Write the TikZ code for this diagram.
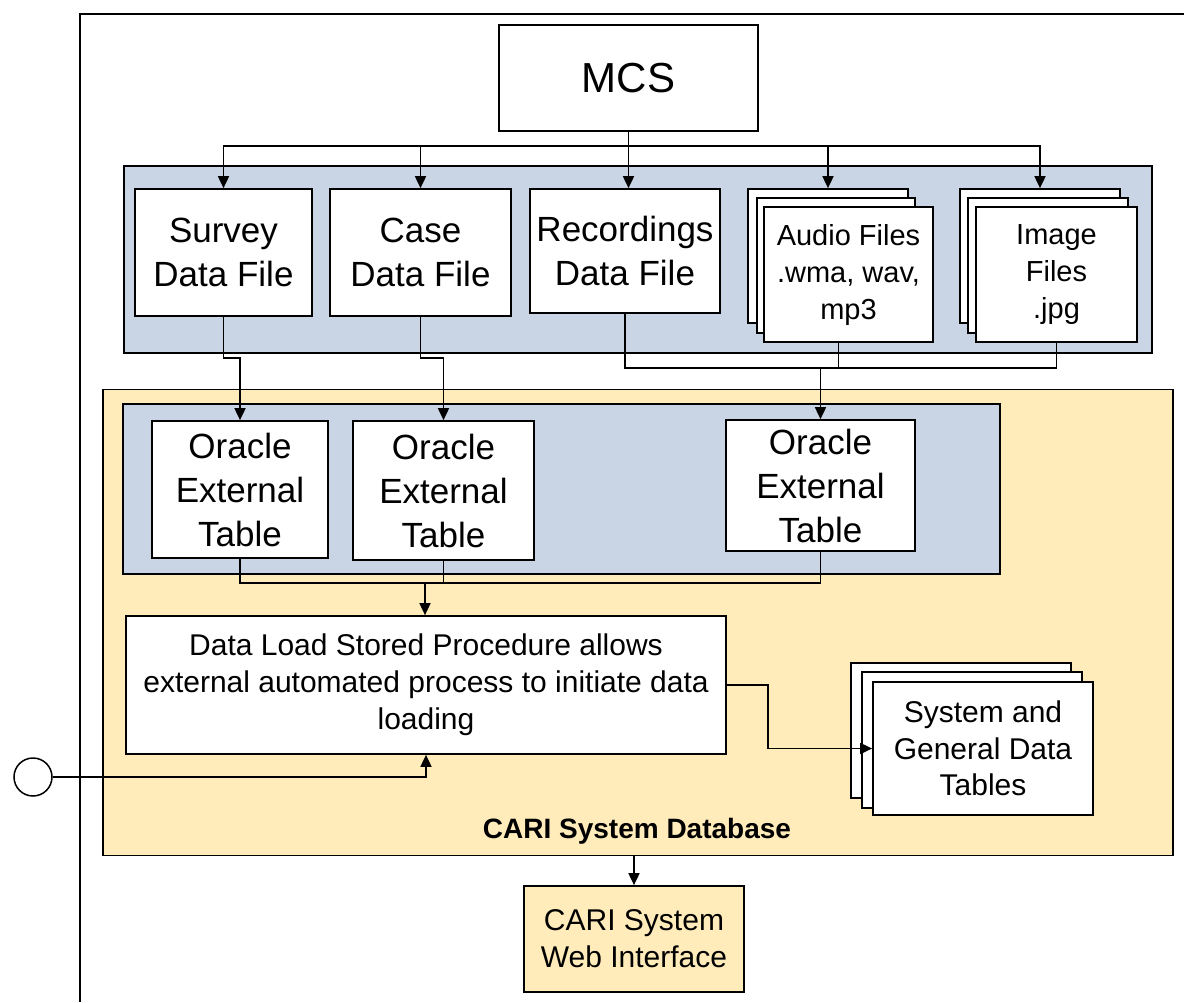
\documentclass[tikz,border=0pt]{standalone}
\usepackage{fontspec}
\setmainfont{Liberation Sans}
\usepackage{xcolor}
\usepackage{tikz}
\usetikzlibrary{arrows.meta, positioning, calc}
\definecolor{panelblue}{RGB}{201,213,228}
\definecolor{paneltan}{RGB}{255,236,186}
\tikzstyle{filebox} = [rectangle, draw=black, fill=white, line width=1.7pt, inner sep=0pt, align=center, font=\fontsize{35}{44}\selectfont]
\tikzstyle{sheet} = [filebox, font=\fontsize{29}{37}\selectfont]
\tikzstyle{bluepanel} = [rectangle, draw=black, fill=panelblue, line width=1.7pt, inner sep=0pt]
\tikzstyle{tanpanel} = [rectangle, draw=black, fill=paneltan, line width=1.7pt, inner sep=0pt]
\tikzstyle{arrow} = [line width=1.7pt, -{Triangle[length=12pt, width=11pt]}]
\tikzstyle{wire} = [line width=1.7pt]

\begin{document}
\begin{tikzpicture}[x=1pt, y=-1pt]
    \useasboundingbox (0,0) rectangle (1184,1002);
    \draw [wire] (80,1002) -- (80,14) -- (1184,14);

    % panels
    \node (files) [bluepanel, minimum width=1028pt, minimum height=187pt] at (638,259.5) {};
    \node (cari) [tanpanel, minimum width=1070pt, minimum height=466pt] at (638,622.5) {};
    \node (tables) [bluepanel, minimum width=877pt, minimum height=170pt] at (561.5,489) {};

    \node (mcs) [filebox, minimum width=259pt, minimum height=106pt, font=\fontsize{42}{50}\selectfont] at (628.5,78) {MCS};
    \node (survey) [filebox, minimum width=177pt, minimum height=127pt] at (223.5,252.5) {Survey\\Data File};
    \node (case) [filebox, minimum width=181pt, minimum height=127pt] at (420.5,252.5) {Case\\Data File};
    \node (rec) [filebox, minimum width=190pt, minimum height=124pt] at (625,251) {Recordings\\Data File};

    \node (audio3) [sheet, minimum width=160pt, minimum height=134pt] at (828,256) {};
    \node (audio2) [sheet, minimum width=158pt, minimum height=135pt] at (836,265.5) {};
    \node (audio) [sheet, minimum width=169pt, minimum height=135pt] at (848.5,274.5) {Audio Files\\.wma, wav,\\mp3};
    \node (image3) [sheet, minimum width=160pt, minimum height=134pt] at (1040,256) {};
    \node (image2) [sheet, minimum width=160pt, minimum height=135pt] at (1048,265.5) {};
    \node (image) [sheet, minimum width=161pt, minimum height=135pt] at (1056.5,274.5) {Image\\Files\\.jpg};

    \node (ora1) [filebox, minimum width=176pt, minimum height=137pt] at (240,489.5) {Oracle\\External\\Table};
    \node (ora2) [filebox, minimum width=181pt, minimum height=139pt] at (443.5,490.5) {Oracle\\External\\Table};
    \node (ora3) [filebox, minimum width=189pt, minimum height=131pt] at (820.5,485.5) {Oracle\\External\\Table};

    \node (load) [sheet, minimum width=600pt, minimum height=138pt, font=\fontsize{30}{37}\selectfont] at (426,685) {Data Load Stored Procedure allows\\external automated process to initiate data\\loading};

    \node (sys3) [sheet, minimum width=220pt, minimum height=135pt] at (961,730.5) {};
    \node (sys2) [sheet, minimum width=220pt, minimum height=136pt] at (972,740) {};
    \node (sys) [sheet, minimum width=220pt, minimum height=133pt, font=\fontsize{30}{36.5}\selectfont] at (983,748.5) {System and\\General Data\\Tables};

    \node (carilabel) [anchor=base, font=\bfseries\fontsize{28}{34}\selectfont] at (637,838) {CARI System Database};
    \node (web) [sheet, fill=paneltan, minimum width=220pt, minimum height=106pt, font=\fontsize{30}{37}\selectfont] at (634,939) {CARI System\\Web Interface};
    \node (ext) [circle, draw=black, line width=1.5pt, fill=white, minimum size=38pt, inner sep=0pt] at (33,777) {};

    \coordinate (split) at ($(mcs.south)+(0,14)$);
    \coordinate (merge) at (820.5,368);
    \coordinate (join) at (425,583);

    \draw [arrow] (mcs.south) -- (mcs.south |- rec.north);
    \draw [arrow] (split) -| (survey.north);
    \draw [arrow] (split) -| (case.north);
    \draw [arrow] (split) -| (audio3.north);
    \draw [arrow] (split) -| (image3.north);

    \draw [arrow] (survey.south) -- ++(0,41) -| (ora1.north);
    \draw [arrow] (case.south) -- ++(0,41) -| (ora2.north);
    \draw [wire] (rec.south) |- (merge);
    \draw [wire] ([xshift=-10pt]audio.south) |- (merge);
    \draw [wire] (image.south) |- (merge);
    \draw [arrow] (merge) -- (ora3.north);

    \draw [wire] (ora1.south) |- (join);
    \draw [wire] (ora2.south) |- (join);
    \draw [wire] (ora3.south) |- (join);
    \draw [arrow] (join) -- (join |- load.north);

    \draw [arrow] (ext.east) -| (load.south);
    \draw [arrow] (load.east) -- ++(41,0) |- (sys.west);
    \draw [arrow] (cari.south -| web.north) -- (web.north);
\end{tikzpicture}
\end{document}
